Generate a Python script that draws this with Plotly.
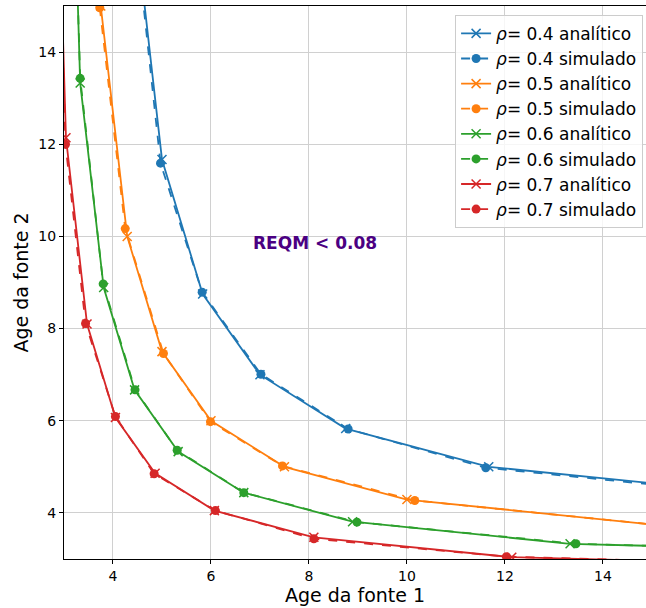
import plotly.graph_objects as go

# rho = 0.4
x_a04 = [3.89, 4.38, 5.00, 5.83, 7.00, 8.75, 11.67, 17.5, 35.0]
y_a04 = [35.0, 17.5, 11.67, 8.75, 7.00, 5.83, 5.00, 4.38, 3.89]
x_s04 = [3.88, 4.37, 4.97, 5.82, 7.02, 8.80, 11.61, 17.4, 34.8]
y_s04 = [34.8, 17.5, 11.59, 8.79, 7.01, 5.82, 4.98, 4.36, 3.88]
# rho = 0.5
x_a05 = [3.33, 3.75, 4.29, 5.00, 6.00, 7.50, 10.00, 15.00, 30.0]
y_a05 = [30.0, 15.0, 10.0, 7.50, 6.00, 5.00, 4.29, 3.75, 3.33]
x_s05 = [3.32, 3.73, 4.25, 5.03, 5.99, 7.46, 10.16, 15.1, 30.2]
y_s05 = [30.2, 14.96, 10.17, 7.46, 5.98, 5.02, 4.27, 3.74, 3.32]
# rho = 0.6
x_a06 = [2.96, 3.33, 3.81, 4.44, 5.33, 6.67, 8.89, 13.33, 26.67]
y_a06 = [26.67, 13.33, 8.89, 6.67, 5.33, 4.44, 3.81, 3.33, 2.96]
x_s06 = [2.95, 3.33, 3.80, 4.45, 5.31, 6.67, 8.98, 13.45, 26.8]
y_s06 = [26.9, 13.43, 8.97, 6.67, 5.36, 4.44, 3.80, 3.33, 2.95]
# rho = 0.7
x_a07 = [2.70, 3.04, 3.47, 4.05, 4.86, 6.07, 8.10, 12.14, 24.29]
y_a07 = [24.29, 12.14, 8.10, 6.07, 4.86, 4.05, 3.47, 3.04, 2.70]
x_s07 = [2.69, 3.03, 3.44, 4.05, 4.84, 6.09, 8.10, 12.03, 24.1]
y_s07 = [24.2, 12.00, 8.11, 6.09, 4.85, 4.05, 3.44, 3.05, 2.69]

rhos = ["0.4", "0.5", "0.6", "0.7"]
colors = ["#1f77b4", "#ff7f0e", "#2ca02c", "#d62728"]
analytic = [(x_a04, y_a04), (x_a05, y_a05), (x_a06, y_a06), (x_a07, y_a07)]
simulated = [(x_s04, y_s04), (x_s05, y_s05), (x_s06, y_s06), (x_s07, y_s07)]

x_ticks = [4, 6, 8, 10, 12, 14]
y_ticks = [4, 6, 8, 10, 12, 14]

FONT = "DejaVu Sans"
fig = go.Figure()
for i, (r, c) in enumerate(zip(rhos, colors)):
    xa, ya = analytic[i]
    xs, ys = simulated[i]
    fig.add_trace(go.Scatter(
        x=xa, y=ya, mode="lines+markers", name=f"<i>ρ</i>= {r} analítico",
        line=dict(color=c, width=1.8),
        marker=dict(symbol="x-thin-open", size=9, line=dict(color=c, width=1.5), color=c),
        legendgroup=f"a{i}"))
    fig.add_trace(go.Scatter(
        x=xs, y=ys, mode="lines+markers", name=f"<i>ρ</i>= {r} simulado",
        line=dict(color=c, width=1.8, dash="dash"),
        marker=dict(symbol="circle", size=9, color=c),
        legendgroup=f"s{i}"))

fig.add_annotation(x=8.12, y=9.85, text="<b>REQM < 0.08</b>", showarrow=False,
                   font=dict(family=FONT, size=17, color="#4b0082"))

fig.update_layout(
    width=646, height=608,
    margin=dict(l=64, r=0, t=6, b=49),
    plot_bgcolor="white", paper_bgcolor="white",
    font=dict(family=FONT, size=14, color="black"),
    showlegend=True,
    legend=dict(x=0.995, y=0.984, xanchor="right", yanchor="top",
                bgcolor="rgba(255,255,255,0.8)", bordercolor="#cccccc", borderwidth=1,
                font=dict(family=FONT, size=17), tracegroupgap=0),
    xaxis=dict(range=[3, 14.88], tickvals=x_ticks, showgrid=True, gridcolor="#d0d0d0", gridwidth=1,
               showline=True, linecolor="black", linewidth=1, mirror=True,
               ticks="outside", ticklen=4, tickcolor="black", zeroline=False,
               title=dict(text="Age da fonte 1", font=dict(size=19), standoff=4)),
    yaxis=dict(range=[3, 15], tickvals=y_ticks, showgrid=True, gridcolor="#d0d0d0", gridwidth=1,
               showline=True, linecolor="black", linewidth=1, mirror=False,
               ticks="outside", ticklen=4, tickcolor="black", zeroline=False,
               title=dict(text="Age da fonte 2", font=dict(size=19), standoff=4)),
)
fig.write_html("out.html")
